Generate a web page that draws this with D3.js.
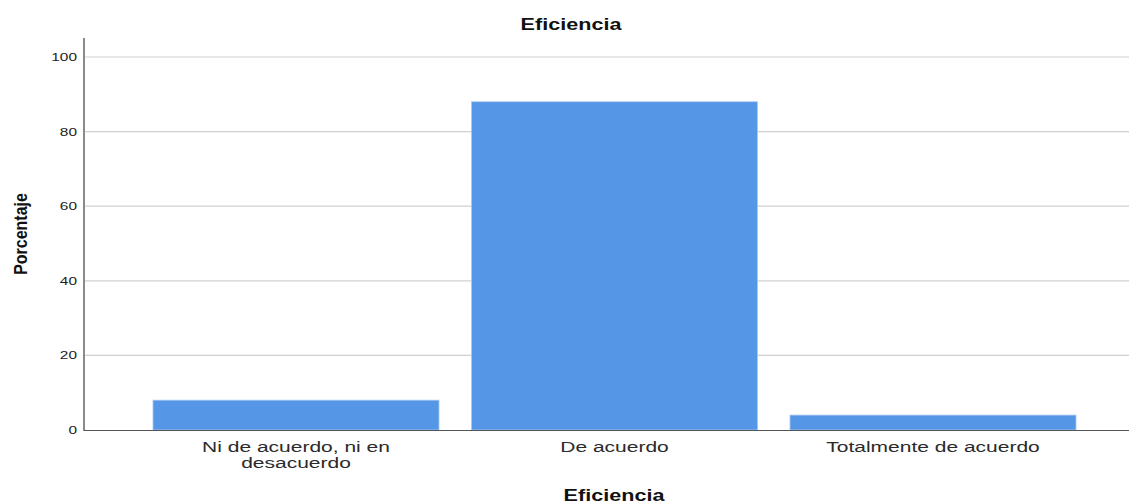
<!DOCTYPE html>
<html><head><meta charset="utf-8">
<script src="https://cdn.jsdelivr.net/npm/d3@7"></script>
<style>body{margin:0;background:#fff;} svg{display:block;font-family:"Liberation Sans",Arial,sans-serif;}</style>
</head><body>
<script>
const categories = ["Ni de acuerdo, ni en desacuerdo", "De acuerdo", "Totalmente de acuerdo"];
const categoryLines = [["Ni de acuerdo, ni en", "desacuerdo"], ["De acuerdo"], ["Totalmente de acuerdo"]];
const values = [8, 88, 4];
const yTicks = [0, 20, 40, 60, 80, 100];
const title = "Eficiencia";
const xTitle = "Eficiencia";
const yTitle = "Porcentaje";

const W = 1129, H = 503;
const SX = 1.4; // horizontal stretch of text seen in the reference
const svg = d3.select("body").append("svg").attr("width", W).attr("height", H);

const y = d3.scaleLinear().domain([0, 100]).range([430, 57]);
const x = d3.scaleBand().domain(categories).range([136.75, 1092.25]).paddingInner(0.102).paddingOuter(0.051);

// grid
svg.append("g").selectAll("line").data(yTicks.filter(d => d > 0)).join("line")
  .attr("x1", 84).attr("x2", W).attr("y1", d => y(d)).attr("y2", d => y(d))
  .attr("stroke", "#d0d0d0").attr("stroke-width", 1.2);

// bars
svg.append("g").selectAll("rect").data(values).join("rect")
  .attr("x", (d, i) => x(categories[i]))
  .attr("width", x.bandwidth())
  .attr("y", d => y(d))
  .attr("height", d => y(0) - y(d))
  .attr("fill", "#5596e6")
  .attr("stroke", "#a9c9f2").attr("stroke-width", 0.8);

// y axis ticks labels (stretched)
const yAxis = d3.axisLeft(y).tickValues(yTicks).tickSize(0).tickPadding(7);
const gy = svg.append("g").attr("transform", "translate(84,0)").call(yAxis);
gy.select(".domain").remove();
gy.selectAll(".tick text")
  .attr("font-size", 11).attr("fill", "#222").attr("font-family", "Liberation Sans, Arial, sans-serif")
  .attr("transform", `scale(${SX},1)`)
  .attr("x", -7 / SX);
svg.append("line").attr("x1", 84).attr("x2", 84).attr("y1", 38).attr("y2", 431)
  .attr("stroke", "#8a8a8a").attr("stroke-width", 2);

// x axis line
svg.append("line").attr("x1", 84).attr("x2", W).attr("y1", 430.5).attr("y2", 430.5)
  .attr("stroke", "#555").attr("stroke-width", 1.2);

// category labels
const gx = svg.append("g");
categories.forEach((c, i) => {
  const cx = x(c) + x.bandwidth() / 2;
  const t = gx.append("text").attr("transform", `translate(${cx},452) scale(${SX},1)`)
    .attr("text-anchor", "middle").attr("font-size", 15).attr("fill", "#2a2a2a");
  categoryLines[i].forEach((ln, j) => {
    t.append("tspan").attr("x", 0).attr("dy", j === 0 ? 0 : 16).text(ln);
  });
});

// titles
svg.append("text").attr("transform", `translate(571,30) scale(1.35,1)`).attr("text-anchor", "middle")
  .attr("font-size", 16).attr("font-weight", "bold").attr("fill", "#111").text(title);
svg.append("text").attr("transform", `translate(614,501) scale(1.35,1)`).attr("text-anchor", "middle")
  .attr("font-size", 16).attr("font-weight", "bold").attr("fill", "#111").text(xTitle);
svg.append("text").attr("transform", "translate(27,234) scale(1.2,1) rotate(-90)").attr("text-anchor", "middle")
  .attr("font-size", 16).attr("font-weight", "bold").attr("fill", "#111").text(yTitle);
</script>
</body></html>
